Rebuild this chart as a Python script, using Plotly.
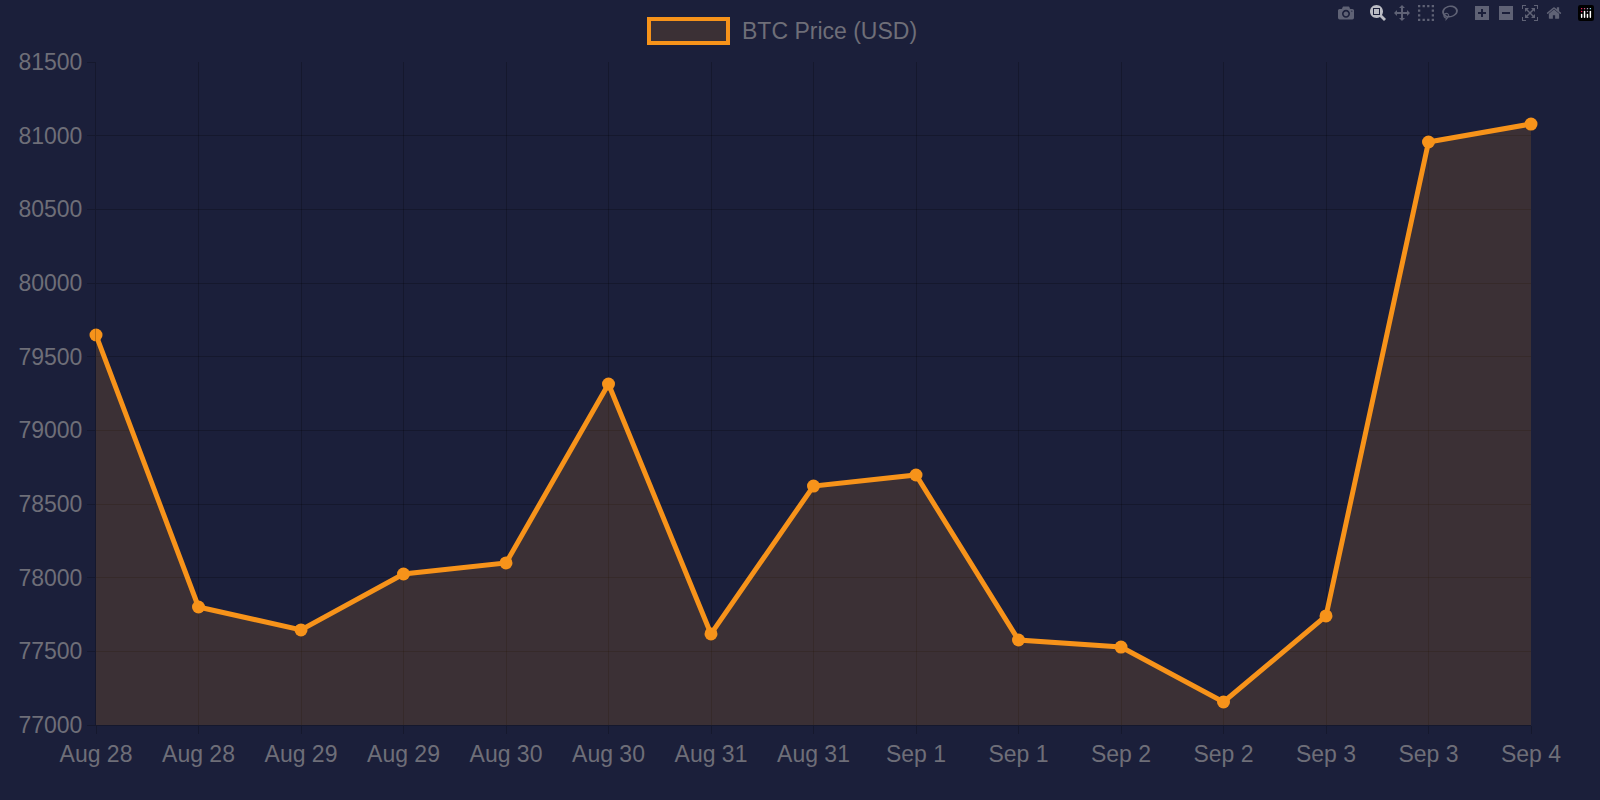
import plotly.graph_objects as go

labels = ["Aug 28","Aug 28","Aug 29","Aug 29","Aug 30","Aug 30","Aug 31","Aug 31",
          "Sep 1","Sep 1","Sep 2","Sep 2","Sep 3","Sep 3","Sep 4"]
prices = [79647,77801,77645,78025,78100,79314,77618,78622,78697,77577,77529,77156,77740,80957,81079]
series_name = "BTC Price (USD)"

x = list(range(len(labels)))
orange = "#f7931a"
fig = go.Figure(go.Scatter(
    x=x, y=prices, mode="lines+markers", name=series_name, cliponaxis=False,
    line=dict(color=orange, width=5), marker=dict(color=orange, size=13),
    fill="tozeroy", fillcolor="rgba(247,147,26,0.15)", showlegend=False))

grid = "rgba(0,0,0,0.22)"
fig.update_layout(
    width=1600, height=800, paper_bgcolor="#1b1f3a", plot_bgcolor="#1b1f3a",
    margin=dict(l=96, r=69, t=62, b=75),
    font=dict(family="Liberation Sans, Arial", size=23, color="#6e6e78"),
    xaxis=dict(range=[0, len(labels)-1], tickvals=x, ticktext=labels, showgrid=True,
               gridcolor=grid, zeroline=False, ticks="outside", ticklen=8, tickcolor=grid,
               showline=True, linecolor=grid),
    yaxis=dict(range=[77000, 81500], dtick=500, showgrid=True, gridcolor=grid, zeroline=False,
               ticks="outside", ticklen=8, tickcolor=grid, showline=True, linecolor=grid,
               tickformat="d"),
)
W = 1435; H = 663
def px(xp): return (xp - 96) / W
def py(yp): return (725 - yp) / H
fig.add_shape(type="rect", xref="paper", yref="paper", x0=px(649), x1=px(728), y0=py(43), y1=py(19),
              line=dict(color=orange, width=4), fillcolor="rgba(247,147,26,0.15)")
fig.add_annotation(xref="paper", yref="paper", x=px(740), y=py(31), text=series_name,
                   showarrow=False, xanchor="left", yanchor="middle",
                   font=dict(size=23, color="#6e6e78"))
fig.write_html("out.html", post_script="document.body.style.margin='0';document.body.style.background='#1b1f3a';")
